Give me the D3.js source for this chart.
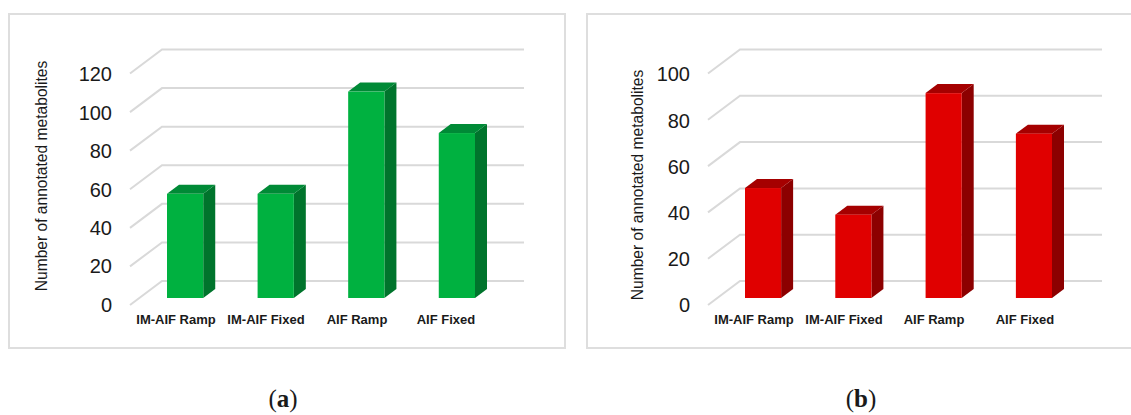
<!DOCTYPE html>
<html>
<head>
<meta charset="utf-8">
<script src="https://cdn.jsdelivr.net/npm/d3@7"></script>
<style>
  html, body { margin: 0; padding: 0; background: #fff; }
  svg { display: block; }
  text { font-family: "Liberation Sans", Arial, sans-serif; fill: #1a1a1a; }
</style>
</head>
<body>
<svg id="chart" width="1131" height="415"></svg>
<script>
const categories = ["IM-AIF Ramp", "IM-AIF Fixed", "AIF Ramp", "AIF Fixed"];
const valuesA = [54, 54, 107, 85.5];
const valuesB = [47.5, 36, 88.5, 71];
const ticksA = [0, 20, 40, 60, 80, 100, 120];
const ticksB = [0, 20, 40, 60, 80, 100];
const axisTitle = "Number of annotated metabolites";

const svg = d3.select("#chart");
const depthX = 12, depthY = 9;   // bar depth offset
const wallX = 32, wallY = 24;    // floor offset from front edge to back wall

function drawPanel(cfg) {
  const g = svg.append("g");

  g.append("rect")
    .attr("x", cfg.frame[0]).attr("y", cfg.frame[1])
    .attr("width", cfg.frame[2]).attr("height", cfg.frame[3])
    .attr("fill", "#fff").attr("stroke", "#dedede").attr("stroke-width", 2);

  // y maps a value onto the front plane of the bars
  const y = d3.scaleLinear().domain([0, cfg.max]).range([298, 66.5]);
  const x = d3.scaleBand().domain(categories)
    .range(cfg.xRange).paddingInner(cfg.inner).paddingOuter(0);

  // Back wall gridlines and their slanted floor/side segments
  const grid = g.append("g");
  cfg.ticks.forEach(t => {
    const yb = y(t) - 17;
    grid.append("path")
      .attr("d", d3.line()([[cfg.gridLeft, yb + wallY], [cfg.gridLeft + wallX, yb], [cfg.gridRight, yb]]))
      .attr("fill", "none").attr("stroke", "#d9d9d9").attr("stroke-width", 2);
  });

  // Value axis labels sit in front of the slanted segments
  const axis = d3.axisLeft(d3.scaleLinear().domain(y.domain()).range([y(0) + 7, y(cfg.max) + 8]))
    .tickValues(cfg.ticks).tickSize(0).tickPadding(0).tickFormat(d3.format("d"));
  const axisG = g.append("g").attr("transform", `translate(${cfg.gridLeft - 18},0)`).call(axis);
  axisG.select(".domain").remove();
  axisG.selectAll("text").style("font-size", "20px").style("font-family", '"Liberation Sans", Arial, sans-serif').attr("fill", "#1a1a1a");

  g.append("text")
    .attr("transform", `translate(${cfg.titleX},${cfg.titleY}) rotate(-90)`)
    .attr("text-anchor", "middle").style("font-size", cfg.titleSize + "px").text(axisTitle);

  // Bars as three faces: front, top and side
  const bars = g.selectAll("g.bar").data(cfg.values).join("g").attr("class", "bar");
  const px = (i) => x(categories[i]);
  const w = x.bandwidth();
  bars.append("polygon").attr("fill", cfg.side)
    .attr("points", (d, i) => [[px(i) + w, y(d)], [px(i) + w + depthX, y(d) - depthY],
      [px(i) + w + depthX, y(0) - depthY], [px(i) + w, y(0)]].join(" "));
  bars.append("polygon").attr("fill", cfg.top)
    .attr("points", (d, i) => [[px(i), y(d)], [px(i) + depthX, y(d) - depthY],
      [px(i) + w + depthX, y(d) - depthY], [px(i) + w, y(d)]].join(" "));
  bars.append("rect").attr("fill", cfg.front)
    .attr("x", (d, i) => px(i)).attr("y", d => y(d))
    .attr("width", w).attr("height", d => y(0) - y(d));

  // Category labels
  g.selectAll("text.cat").data(categories).join("text")
    .attr("class", "cat")
    .attr("x", (d, i) => cfg.labelX[i]).attr("y", 324)
    .attr("text-anchor", "middle")
    .style("font-size", "13px").style("font-weight", "bold")
    .text(d => d);

  // Panel letter
  const letter = g.append("text")
    .attr("x", cfg.letterX).attr("y", 407).attr("text-anchor", "middle")
    .style("font-family", '"Liberation Serif", serif').style("font-size", "25px");
  letter.append("tspan").text("(");
  letter.append("tspan").style("font-weight", "bold").text(cfg.letter);
  letter.append("tspan").text(")");
}

drawPanel({
  frame: [9, 14, 556, 334], max: 120, ticks: ticksA, values: valuesA,
  xRange: [167, 475], inner: 0.6, gridLeft: 130, gridRight: 524,
  titleX: 46.5, titleY: 176, titleSize: 15.6,
  front: "#00b140", top: "#008a36", side: "#00742c",
  labelX: [176, 266, 357, 446], letter: "a", letterX: 283
});

drawPanel({
  frame: [587, 14, 546, 334], max: 100, ticks: ticksB, values: valuesB,
  xRange: [745, 1052], inner: 0.6, gridLeft: 708, gridRight: 1102,
  titleX: 643, titleY: 185, titleSize: 15.6,
  front: "#e00000", top: "#a50000", side: "#8c0000",
  labelX: [754, 844, 934, 1025], letter: "b", letterX: 861
});
</script>
</body>
</html>
